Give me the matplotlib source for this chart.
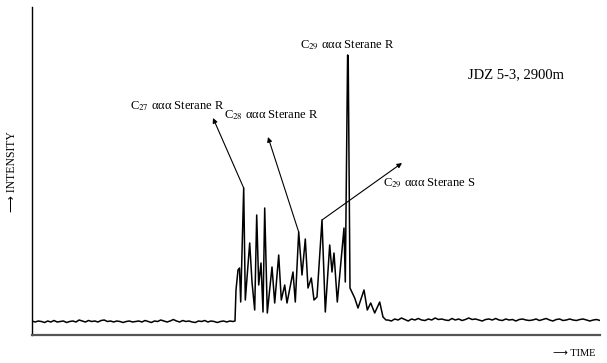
import numpy as np
import matplotlib
matplotlib.use("Agg")
import matplotlib.pyplot as plt

plt.rcParams['font.family'] = ['Liberation Serif', 'DejaVu Serif']
plt.rcParams['mathtext.fontset'] = 'stix'

# baseline noise before and after the sterane cluster
ruido_izq = [14, 13, 14, 13.5, 12.5, 14, 13, 14.5, 13, 13.5, 14, 12.5, 13.5, 14, 13, 15, 14, 13,
             14.5, 13.5, 14, 13, 14.5, 15, 13.5, 14, 13, 14, 13.5, 12.5, 13.5, 14, 13, 13.5, 14,
             13, 14.5, 13.5, 12.5, 14, 13.5, 15, 14, 13, 14, 15.5, 14, 13, 14.5, 13.5, 14, 13,
             12.5, 14, 13.5, 14.5, 13, 14, 13.5, 12.5, 13.5, 14, 13, 14, 13.5]
ruido_der = [15, 14, 16, 15, 17, 15.5, 14, 16, 15, 16.5, 15, 14.5, 16, 15, 17, 15.5, 16, 15, 14.5,
             16.5, 15, 16, 14.5, 15.5, 17, 15.5, 16, 15, 14, 15.5, 16, 15, 16.5, 15, 14.5, 16, 15,
             15.5, 14, 15.5, 16, 15, 14.5, 15, 16, 14.5, 15.5, 16.5, 15, 14, 15.5, 16, 14.5, 15,
             16, 15, 14.5, 15.5, 16, 15, 14, 15, 15.5, 14.5]

# peak cluster (time, intensity)
tiempo_picos = [203, 204, 206, 207.5, 208.7, 211.7, 213.3, 217.7, 220, 222.7, 224.7, 226.7, 229,
                231, 232.7, 235.3, 240, 242.7, 246.7, 249.3, 252.7, 255, 261, 263.3, 266.7, 270,
                273.3, 276, 279.3, 282, 285, 290, 293.3, 297.7, 300, 302, 305.3, 312, 313.3,
                315.6, 316.2, 318, 322.7, 326, 332, 335.3, 338.7, 342.7, 347.7, 351, 354]
intens_picos = [14, 45, 65, 67, 33, 147, 35, 92, 53, 25, 120, 50, 72,
                23, 127, 22, 68, 32, 80, 35, 50, 32, 63, 33, 103, 60,
                96, 47, 57, 35, 38, 115, 23, 90, 63, 82, 33, 107, 53,
                280, 279, 47, 37, 27, 45, 25, 32, 22, 33, 18, 15]

tiempo = np.concatenate([np.linspace(0, 201, len(ruido_izq)), tiempo_picos,
                         np.linspace(356, 568, len(ruido_der))])
intensidad = np.concatenate([ruido_izq, intens_picos, ruido_der])

# labelled peaks: text, peak time, label position, arrow head (None = no arrow)
etiquetas = ['C$_{27}$ ααα Sterane R', 'C$_{28}$ ααα Sterane R',
             'C$_{29}$ ααα Sterane S', 'C$_{29}$ ααα Sterane R']
t_etiqueta = [211.7, 266.7, 290, 316]
pos_texto = [(98, 229), (192, 220), (351, 152), (268, 290)]
punta = [(181, 217), (236, 198), (370, 172), None]

fig = plt.figure(figsize=(6.07, 3.63), dpi=100)
ax = fig.add_axes([32 / 607, 28 / 363, 568 / 607, 328 / 363])
ax.plot(tiempo, intensidad, color='black', lw=1.1)
ax.set_xlim(0, 568)
ax.set_ylim(0, 328)
ax.set_xticks([])
ax.set_yticks([])
ax.spines['top'].set_visible(False)
ax.spines['right'].set_visible(False)
ax.spines['left'].set_linewidth(1.0)
ax.spines['bottom'].set_color('#555555')
ax.spines['bottom'].set_linewidth(1.6)

for texto, tp, pt, pn in zip(etiquetas, t_etiqueta, pos_texto, punta):
    i = np.argmin(np.abs(tiempo - tp))
    ax.text(pt[0], pt[1], texto, fontsize=9, ha='left', va='center')
    if pn is not None:
        ax.annotate('', xy=pn, xytext=(tiempo[i], intensidad[i]),
                    arrowprops=dict(arrowstyle='-|>', lw=0.8, color='black',
                                    mutation_scale=7, shrinkA=0, shrinkB=0))

ax.text(436, 260, 'JDZ 5-3, 2900m', fontsize=10.5, ha='left', va='center')

fig.text(12 / 607, 1 - 172 / 363, '⟶ INTENSITY', fontsize=8.5, rotation=90,
         ha='center', va='center', family=['Liberation Serif', 'DejaVu Sans'])
fig.text(574 / 607, 1 - 353 / 363, '⟶ TIME', fontsize=7.5, ha='center', va='center',
         family=['Liberation Serif', 'DejaVu Sans'])

fig.savefig('out.png', dpi=100)
